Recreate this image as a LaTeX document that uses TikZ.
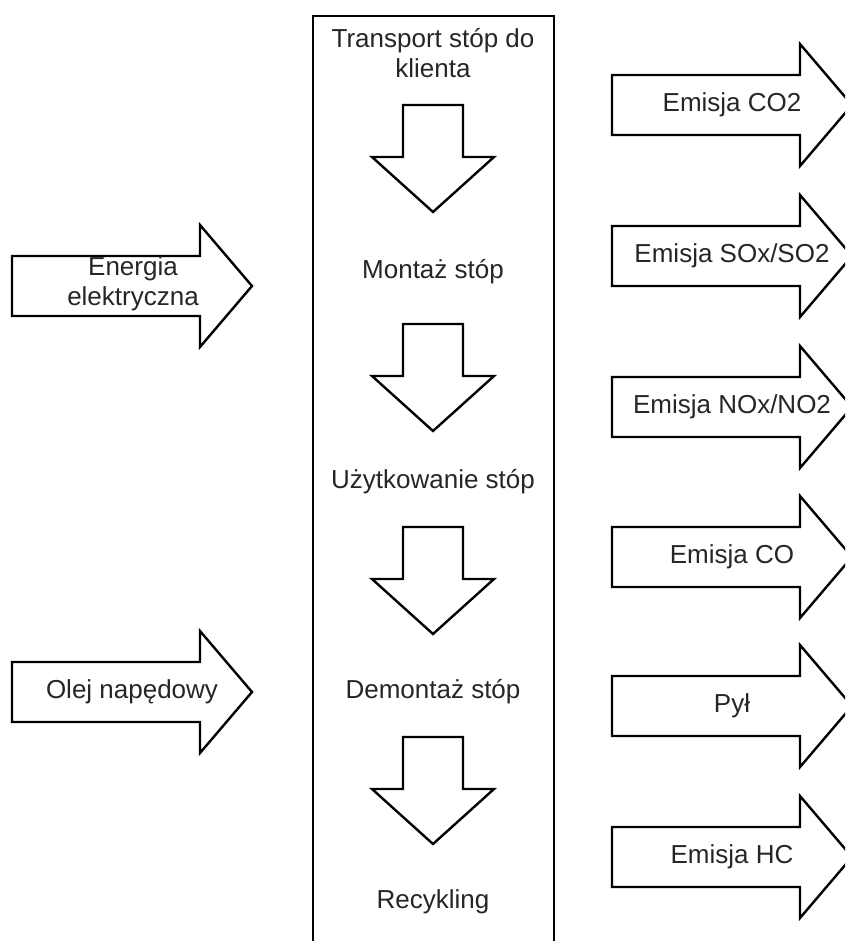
\documentclass[tikz,border=0pt]{standalone}
\usepackage{fontspec}
\setmainfont{Liberation Sans}
\usepackage{tikz}

\tikzset{
	blk/.style={draw=black, line width=1.2pt, line join=miter, fill=white},
	lbl/.style={font=\fontsize{13pt}{15pt}\selectfont, text=black!85, align=center, inner sep=0pt},
	rarrow/.pic={\path[blk] (-120,-30) -- (68,-30) -- (68,-61) -- (120,0) -- (68,61) -- (68,30) -- (-120,30) -- cycle;},
	darrow/.pic={\path[blk] (-30,0) -- (30,0) -- (30,52) -- (61,52) -- (0,107) -- (-61,52) -- (-30,52) -- cycle;}
}

\begin{document}
\begin{tikzpicture}[x=0.5pt, y=-0.5pt]
\clip (0,0) rectangle (845,941);
\fill[white] (0,0) rectangle (845,941);
% kolumna etapow
\draw[blk] (313,16) rectangle (554,960);
\node[lbl] (tr) at (433,53) {Transport stóp do\\klienta};
\node[lbl] (mont) at (433,272) {Montaż stóp};
\node[lbl] (uzyt) at (433,482) {Użytkowanie stóp};
\node[lbl] (dem) at (433,692) {Demontaż stóp};
\node[lbl] (rec) at (433,902) {Recykling};
\foreach \y in {105,324,527,737}
	\pic at (433,\y) {darrow};
% wejscia
\pic at (132,286) {rarrow};
\node[lbl] (en) at (133,284) {Energia\\elektryczna};
\pic at (132,692) {rarrow};
\node[lbl] (ol) at (132,692) {Olej napędowy};
% emisje
\foreach \y/\name/\txt in {105/co2/Emisja CO2, 256/sox/{Emisja SOx/SO2}, 407/nox/{Emisja NOx/NO2}, 557/co/Emisja CO, 706/pyl/Pył, 857/hc/Emisja HC}{
	\pic at (732,\y) {rarrow};
	\node[lbl] (\name) at (732,\y) {\txt};
}
\end{tikzpicture}
\end{document}
